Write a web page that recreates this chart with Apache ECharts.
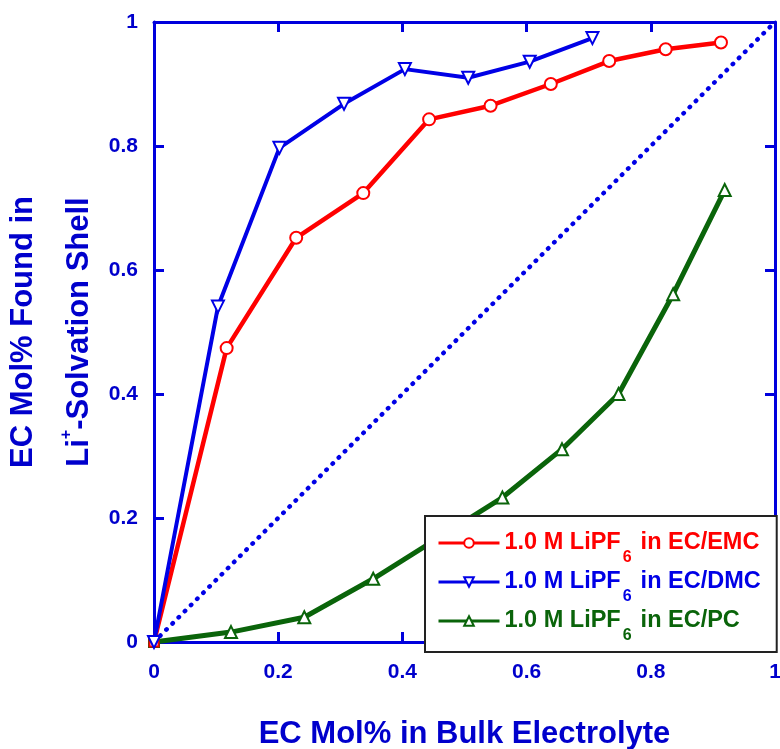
<!DOCTYPE html>
<html>
<head>
<meta charset="utf-8">
<script src="https://cdn.jsdelivr.net/npm/echarts@6/dist/echarts.min.js"></script>
<style>
  html, body { margin: 0; padding: 0; background: #ffffff; }
  #chart { width: 780px; height: 749px; }
</style>
</head>
<body>
<div id="chart"></div>
<script>
// EC mole fraction in the bulk electrolyte (x) vs. EC fraction in the Li+ solvation shell (y)
const emcBulk  = [0, 0.117, 0.229, 0.337, 0.443, 0.542, 0.639, 0.733, 0.824, 0.913];
const emcShell = [0, 0.474, 0.652, 0.724, 0.843, 0.865, 0.900, 0.937, 0.956, 0.967];

const dmcBulk  = [0, 0.103, 0.202, 0.306, 0.404, 0.506, 0.605, 0.706];
const dmcShell = [0, 0.541, 0.797, 0.868, 0.924, 0.910, 0.936, 0.974];

const pcBulk   = [0, 0.124, 0.242, 0.353, 0.561, 0.657, 0.748, 0.836, 0.919];
const pcShell  = [0, 0.016, 0.040, 0.102, 0.233, 0.311, 0.400, 0.561, 0.729];

// reference line: shell composition equal to bulk composition
const idealBulk  = [0, 1];
const idealShell = [0, 1];

const seriesNames = [
  '1.0 M LiPF6 in EC/EMC',
  '1.0 M LiPF6 in EC/DMC',
  '1.0 M LiPF6 in EC/PC'
];

const FONT = 'Liberation Sans, Arial, sans-serif';
const AXIS_BLUE = '#0000dd';
const TEXT_BLUE = '#0000cc';
const RED = '#ff0000';
const BLUE = '#0000e6';
const GREEN = '#0a640a';

function pairs(xs, ys) {
  return xs.map((x, i) => [x, ys[i]]);
}

const chart = echarts.init(document.getElementById('chart'), null, { renderer: 'canvas' });

const tickLabel = {
  color: TEXT_BLUE,
  fontFamily: FONT,
  fontWeight: 'bold',
  fontSize: 21
};

function legendRich(color) {
  return {
    color: color,
    rich: {
      t: { color: color, fontFamily: FONT, fontWeight: 'bold', fontSize: 23.5, lineHeight: 38 },
      s: { color: color, fontFamily: FONT, fontWeight: 'bold', fontSize: 16, lineHeight: 46, verticalAlign: 'bottom', padding: [0, 9, 0, 2] }
    }
  };
}

const option = {
  backgroundColor: '#ffffff',
  animation: false,
  grid: { left: 154, right: 5, top: 22, bottom: 107, containLabel: false, outerBoundsMode: 'none' },
  xAxis: [
    {
      type: 'value', min: 0, max: 1, interval: 0.2,
      position: 'bottom',
      name: 'EC Mol% in Bulk Electrolyte',
      nameLocation: 'middle',
      nameGap: 77,
      nameTextStyle: { color: TEXT_BLUE, fontFamily: FONT, fontWeight: 'bold', fontSize: 31 },
      axisLine: { show: true, onZero: false, lineStyle: { color: AXIS_BLUE, width: 3 } },
      axisTick: { show: true, inside: true, length: 10, lineStyle: { color: AXIS_BLUE, width: 3 } },
      axisLabel: Object.assign({ margin: 20, formatter: v => String(v) }, tickLabel),
      splitLine: { show: false }
    },
    {
      type: 'value', min: 0, max: 1, interval: 0.2,
      position: 'top',
      axisLine: { show: true, onZero: false, lineStyle: { color: AXIS_BLUE, width: 3 } },
      axisTick: { show: true, inside: true, length: 10, lineStyle: { color: AXIS_BLUE, width: 3 } },
      axisLabel: { show: false },
      splitLine: { show: false }
    }
  ],
  yAxis: [
    {
      type: 'value', min: 0, max: 1, interval: 0.2,
      position: 'left',
      name: '{t|EC Mol% Found in}\n{t|Li}{sup|+}{t|-Solvation Shell}',
      nameLocation: 'middle',
      nameGap: 47,
      nameRotate: 90,
      nameTextStyle: {
        color: TEXT_BLUE,
        rich: {
          t: { color: TEXT_BLUE, fontFamily: FONT, fontWeight: 'bold', fontSize: 31, lineHeight: 56 },
          sup: { color: TEXT_BLUE, fontFamily: FONT, fontWeight: 'bold', fontSize: 16, lineHeight: 56, verticalAlign: 'top', padding: [8, 0, 0, 0] }
        }
      },
      axisLine: { show: true, onZero: false, lineStyle: { color: AXIS_BLUE, width: 3 } },
      axisTick: { show: true, inside: true, length: 10, lineStyle: { color: AXIS_BLUE, width: 3 } },
      axisLabel: Object.assign({ margin: 16, formatter: v => String(v) }, tickLabel),
      splitLine: { show: false }
    },
    {
      type: 'value', min: 0, max: 1, interval: 0.2,
      position: 'right',
      axisLine: { show: true, onZero: false, lineStyle: { color: AXIS_BLUE, width: 3 } },
      axisTick: { show: true, inside: true, length: 10, lineStyle: { color: AXIS_BLUE, width: 3 } },
      axisLabel: { show: false },
      splitLine: { show: false }
    }
  ],
  legend: {
    orient: 'vertical',
    left: 425,
    top: 516,
    padding: [15, 16, 8, 12],
    itemGap: 4,
    itemWidth: 61,
    itemHeight: 12,
    backgroundColor: '#ffffff',
    borderColor: '#222222',
    borderWidth: 2,
    borderRadius: 0,
    z: 10,
    lineStyle: { width: 3 },
    formatter: name => {
      const parts = name.split('6');
      return '{t|' + parts[0] + '}{s|6}{t|' + parts[1].trim() + '}';
    },
    data: [
      { name: seriesNames[0], textStyle: legendRich(RED) },
      { name: seriesNames[1], textStyle: legendRich(BLUE) },
      { name: seriesNames[2], textStyle: legendRich(GREEN) }
    ]
  },
  series: [
    {
      name: 'ideal',
      type: 'line',
      data: pairs(idealBulk, idealShell),
      showSymbol: false,
      symbol: 'none',
      silent: true,
      z: 1,
      lineStyle: { color: BLUE, width: 4.5, type: [0.5, 8.2], cap: 'round' }
    },
    {
      name: seriesNames[2],
      type: 'line',
      data: pairs(pcBulk, pcShell).map((p, i) => i === 0 ? { value: p, symbol: 'rect', symbolSize: 10 } : p),
      symbol: 'triangle',
      symbolSize: 12,
      z: 2,
      lineStyle: { color: GREEN, width: 5 },
      itemStyle: { color: '#ffffff', borderColor: GREEN, borderWidth: 2 }
    },
    {
      name: seriesNames[0],
      type: 'line',
      data: pairs(emcBulk, emcShell).map((p, i) => i === 0 ? { value: p, symbol: 'rect', symbolSize: 9 } : p),
      symbol: 'circle',
      symbolSize: 12,
      z: 3,
      lineStyle: { color: RED, width: 4.5 },
      itemStyle: { color: '#ffffff', borderColor: RED, borderWidth: 2 }
    },
    {
      name: seriesNames[1],
      type: 'line',
      data: pairs(dmcBulk, dmcShell),
      symbol: 'triangle',
      symbolRotate: 180,
      symbolSize: 12,
      z: 4,
      lineStyle: { color: BLUE, width: 4 },
      itemStyle: { color: '#ffffff', borderColor: BLUE, borderWidth: 2 }
    }
  ]
};

chart.setOption(option);
</script>
</body>
</html>
